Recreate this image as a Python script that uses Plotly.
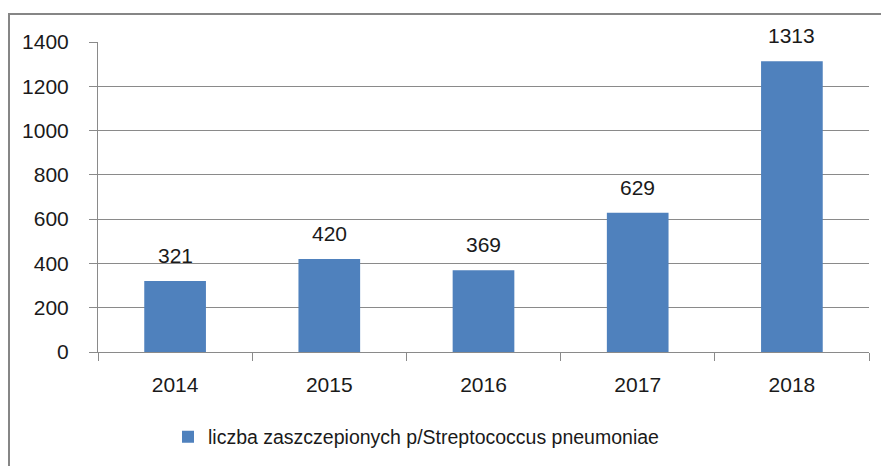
import plotly.graph_objects as go

years = ["2014", "2015", "2016", "2017", "2018"]
values = [321, 420, 369, 629, 1313]
series_name = "liczba zaszczepionych p/Streptococcus pneumoniae"
y_ticks = [0, 200, 400, 600, 800, 1000, 1200, 1400]

BAR = "#4F81BD"
GRID = "#8a8a8a"
TXT = "#1a1a1a"
FONT = "Liberation Sans"

fig = go.Figure()
fig.add_trace(go.Bar(x=years, y=values, name=series_name, marker=dict(color=BAR, line=dict(width=0)),
                     showlegend=True, hoverinfo="skip"))

for i, v in enumerate(values):
    fig.add_annotation(x=i, y=v, text=str(v), showarrow=False, yanchor="bottom", yshift=12,
                       font=dict(family=FONT, size=21, color=TXT))

L, R, T, B = 98, 12, 42, 114
W, H = 881, 466
pw, ph = W - L - R, H - T - B
fig.add_shape(type="rect", xref="paper", yref="paper",
              x0=(9 - L) / pw, x1=(W + 10 - L) / pw,
              y0=-(H + 10 - T - ph) / ph, y1=1 + (T - 14) / ph,
              line=dict(color="#868686", width=2), fillcolor="rgba(0,0,0,0)", layer="below")

fig.update_layout(
    width=W, height=H,
    margin=dict(l=L, r=R, t=T, b=B, pad=0, autoexpand=False),
    paper_bgcolor="white", plot_bgcolor="white",
    bargap=0.6,
    font=dict(family=FONT, size=21, color=TXT),
    showlegend=True,
    legend=dict(orientation="h", x=(168 - L) / pw, xanchor="left", y=-(437 - T - ph) / ph, yanchor="middle",
                font=dict(family=FONT, size=19.5, color=TXT), itemwidth=30, tracegroupgap=0),
    xaxis=dict(type="category", showgrid=False, showline=True, linecolor=GRID, linewidth=1,
               ticks="outside", tickson="boundaries", ticklen=8, tickcolor=GRID, tickwidth=1,
               automargin=False,
               ticklabelstandoff=14, tickfont=dict(family=FONT, size=21, color=TXT)),
    yaxis=dict(range=[0, 1400], tickvals=y_ticks, showgrid=True, gridcolor=GRID, gridwidth=1,
               showline=True, linecolor=GRID, linewidth=1, zeroline=False, automargin=False,
               ticks="outside", ticklen=8, tickcolor=GRID, tickwidth=1,
               ticklabelstandoff=16, tickfont=dict(family=FONT, size=21, color=TXT)),
)

fig.write_html("out.html", config={"displayModeBar": False},
               post_script="document.body.style.margin='0';document.body.style.overflow='hidden';")
